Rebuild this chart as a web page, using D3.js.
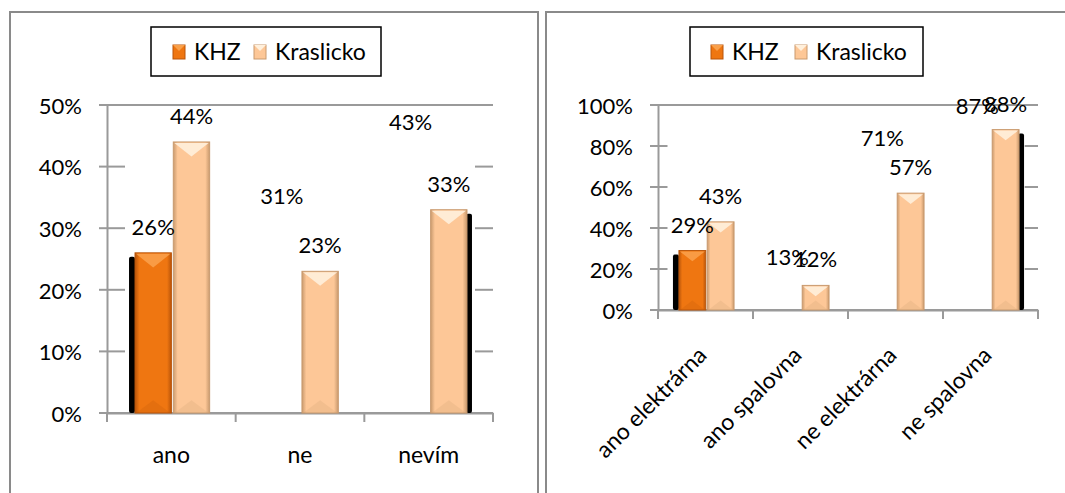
<!DOCTYPE html>
<html>
<head>
<meta charset="utf-8">
<script src="https://cdn.jsdelivr.net/npm/d3@7"></script>
<style>
  body { margin: 0; background: #fff; }
  svg text { font-family: Lato, "Open Sans", sans-serif; fill: #000; }
</style>
</head>
<body>
<svg id="chart" width="1065" height="493"></svg>
<script>
var series = ["KHZ", "Kraslicko"];

// left panel
var leftCategories = ["ano", "ne", "nevím"];
var leftKHZ = [0.26, 0.31, 0.43];
var leftKraslicko = [0.44, 0.23, 0.33];
var leftTicks = [0, 0.1, 0.2, 0.3, 0.4, 0.5];

// right panel
var rightCategories = ["ano elektrárna", "ano spalovna", "ne elektrárna", "ne spalovna"];
var rightKHZ = [0.29, 0.13, 0.71, 0.87];
var rightKraslicko = [0.43, 0.12, 0.57, 0.88];
var rightTicks = [0, 0.2, 0.4, 0.6, 0.8, 1.0];

// KHZ bars that the original file does not show (only their labels)
var hiddenBars = ["ne|KHZ", "nevím|KHZ", "ano spalovna|KHZ", "ne elektrárna|KHZ", "ne spalovna|KHZ"];

var colors = { "KHZ": "#ef7611", "Kraslicko": "#fdc797" };
var edgeColors = { "KHZ": "#b9550a", "Kraslicko": "#c99a6e" };
var topColors = { "KHZ": "#f9a04a", "Kraslicko": "#fff0dc" };

var svg = d3.select("#chart");
var fontSize = 22;
var catFontSize = 23;

// gradients for the bar faces
var defs = svg.append("defs");
series.forEach(s => {
  var g = defs.append("linearGradient").attr("id", "grad-" + s)
    .attr("x1", "0").attr("x2", "1").attr("y1", "0").attr("y2", "0");
  g.append("stop").attr("offset", "0").attr("stop-color", edgeColors[s]);
  g.append("stop").attr("offset", "0.12").attr("stop-color", colors[s]);
  g.append("stop").attr("offset", "0.88").attr("stop-color", colors[s]);
  g.append("stop").attr("offset", "1").attr("stop-color", edgeColors[s]);
});

// panel frames
svg.append("rect").attr("x", 10).attr("y", 12).attr("width", 528).attr("height", 500)
  .attr("fill", "none").attr("stroke", "#8a8a8a").attr("stroke-width", 2);
svg.append("rect").attr("x", 546).attr("y", 12).attr("width", 540).attr("height", 500)
  .attr("fill", "none").attr("stroke", "#8a8a8a").attr("stroke-width", 2);

function drawPanel(opt) {
  var g = svg.append("g");
  var data = opt.categories.map((c, i) => ({ cat: c, KHZ: opt.khz[i], Kraslicko: opt.kras[i] }));

  var x = d3.scaleBand().domain(opt.categories).range([opt.x0, opt.x1]).padding(0);
  var bw = x.bandwidth();
  var xs = d3.scaleBand().domain(series)
    .range([-bw * 0.29 + 1, bw * 0.29 + 1]).paddingInner(0.05);
  var y = d3.scaleLinear().domain([0, opt.max]).range([opt.y0, opt.y1]);

  // gridlines (bottom and top full, others only at the ends like the original)
  opt.ticks.forEach((t, i) => {
    var full = i === 0 || i === opt.ticks.length - 1;
    var segs = full ? [[opt.x0 - 8, opt.x1]]
      : [[opt.x0 - 8, opt.x0 + bw * opt.gridIn], [opt.x1 - bw * 0.14, opt.x1]];
    segs.forEach(sg => {
      g.append("line").attr("x1", sg[0]).attr("x2", sg[1])
        .attr("y1", y(t)).attr("y2", y(t))
        .attr("stroke", "#9a9a9a").attr("stroke-width", 2);
    });
  });

  // y axis
  var yAxis = d3.axisLeft(y).tickValues(opt.ticks).tickFormat(d3.format(".0%"))
    .tickSize(0).tickPadding(25);
  var ya = g.append("g").attr("transform", `translate(${opt.x0},0)`).call(yAxis);
  ya.select(".domain").attr("stroke", "#9a9a9a").attr("stroke-width", 2);
  ya.selectAll(".tick line").remove();
  ya.selectAll("text").attr("font-size", fontSize).attr("dy", "0.38em")
    .style("font-family", "Lato, sans-serif");

  // x axis
  var xa = g.append("g").attr("transform", `translate(0,${opt.y0})`)
    .call(d3.axisBottom(x).tickSize(0).tickFormat(""));
  xa.select(".domain").attr("stroke", "#9a9a9a").attr("stroke-width", 2);
  xa.selectAll(".tick").remove();
  var bounds = opt.categories.map(c => x(c)).concat([opt.x1]);
  g.selectAll(".xtick").data(bounds).join("line")
    .attr("x1", d => d).attr("x2", d => d)
    .attr("y1", opt.y0).attr("y2", opt.y0 + 9)
    .attr("stroke", "#9a9a9a").attr("stroke-width", 2);

  // shadow strips at the outer bars
  var firstCat = opt.categories[0];
  var lastCat = opt.categories[opt.categories.length - 1];
  g.append("rect")
    .attr("x", x(firstCat) + bw / 2 + xs("KHZ") - 6)
    .attr("y", y(data[0].KHZ) + 4)
    .attr("width", 6).attr("height", opt.y0 - y(data[0].KHZ) - 4)
    .attr("rx", 2).attr("fill", "#000");
  var lastD = data[data.length - 1];
  g.append("rect")
    .attr("x", x(lastCat) + bw / 2 + xs("Kraslicko") + xs.bandwidth() - 1)
    .attr("y", y(lastD.Kraslicko) + 4)
    .attr("width", 6).attr("height", opt.y0 - y(lastD.Kraslicko) - 4)
    .attr("rx", 2).attr("fill", "#000");

  // bars
  var bars = [];
  data.forEach(d => series.forEach(s => bars.push({ cat: d.cat, s: s, v: d[s] })));
  var visible = bars.filter(b => hiddenBars.indexOf(b.cat + "|" + b.s) < 0);

  var bg = g.selectAll(".bar").data(visible).join("g").attr("class", "bar");
  bg.append("rect")
    .attr("x", b => x(b.cat) + bw / 2 + xs(b.s))
    .attr("y", b => y(b.v))
    .attr("width", xs.bandwidth())
    .attr("height", b => opt.y0 - y(b.v))
    .attr("fill", b => `url(#grad-${b.s})`)
    .attr("stroke", b => edgeColors[b.s]).attr("stroke-width", 1);
  // top bevel (chevron)
  bg.append("path")
    .attr("d", b => {
      var bx = x(b.cat) + bw / 2 + xs(b.s), w = xs.bandwidth(), by = y(b.v);
      var h = Math.min(w * 0.4, opt.y0 - by);
      return `M${bx + 1},${by + 1}L${bx + w - 1},${by + 1}L${bx + w * 0.5},${by + h}Z`;
    })
    .attr("fill", b => topColors[b.s]).attr("opacity", 0.9);
  // bottom bevel
  bg.append("path")
    .attr("d", b => {
      var bx = x(b.cat) + bw / 2 + xs(b.s), w = xs.bandwidth();
      var h = Math.min(w * 0.35, opt.y0 - y(b.v));
      return `M${bx + 1},${opt.y0}L${bx + w - 1},${opt.y0}L${bx + w * 0.5},${opt.y0 - h}Z`;
    })
    .attr("fill", b => edgeColors[b.s]).attr("opacity", 0.2);

  // value labels (all, including hidden bars)
  g.selectAll(".val").data(bars).join("text").attr("class", "val")
    .attr("x", b => x(b.cat) + bw / 2 + xs(b.s) + xs.bandwidth() / 2)
    .attr("y", b => y(b.v) - 18)
    .attr("text-anchor", "middle").attr("font-size", fontSize)
    .text(b => d3.format(".0%")(b.v));

  // category labels
  if (opt.rotate) {
    g.selectAll(".cat").data(opt.categories).join("text").attr("class", "cat")
      .attr("transform", c => `translate(${x(c) + bw / 2 - 3},${opt.y0 + 41}) rotate(-45)`)
      .attr("text-anchor", "end").attr("dy", "0.35em").attr("font-size", catFontSize)
      .text(c => c);
  } else {
    g.selectAll(".cat").data(opt.categories).join("text").attr("class", "cat")
      .attr("x", c => x(c) + bw / 2).attr("y", opt.y0 + 50)
      .attr("text-anchor", "middle").attr("font-size", catFontSize)
      .text(c => c);
  }

  // legend
  var lg = g.append("g");
  lg.append("rect").attr("x", opt.legend.x).attr("y", 27)
    .attr("width", opt.legend.w).attr("height", 49)
    .attr("fill", "#fff").attr("stroke", "#000").attr("stroke-width", 1.5);
  series.forEach((s, i) => {
    var sx = opt.legend.x + opt.legend.items[i];
    lg.append("rect").attr("x", sx).attr("y", 45).attr("width", 12).attr("height", 14)
      .attr("fill", colors[s]).attr("stroke", edgeColors[s]);
    lg.append("path")
      .attr("d", `M${sx},45L${sx + 12},45L${sx + 6},51Z`)
      .attr("fill", topColors[s]);
    lg.append("text").attr("x", sx + 21).attr("y", 60).attr("font-size", fontSize + 1)
      .text(s);
  });
}

drawPanel({
  categories: leftCategories, khz: leftKHZ, kras: leftKraslicko, ticks: leftTicks,
  max: 0.5, x0: 107, x1: 493, y0: 413, y1: 105, gridIn: 0.14, rotate: false,
  legend: { x: 151, w: 230, items: [22, 103] }
});
drawPanel({
  categories: rightCategories, khz: rightKHZ, kras: rightKraslicko, ticks: rightTicks,
  max: 1.0, x0: 658, x1: 1038, y0: 310, y1: 105, gridIn: 0.1, rotate: true,
  legend: { x: 690, w: 233, items: [21, 105] }
});
</script>
</body>
</html>
